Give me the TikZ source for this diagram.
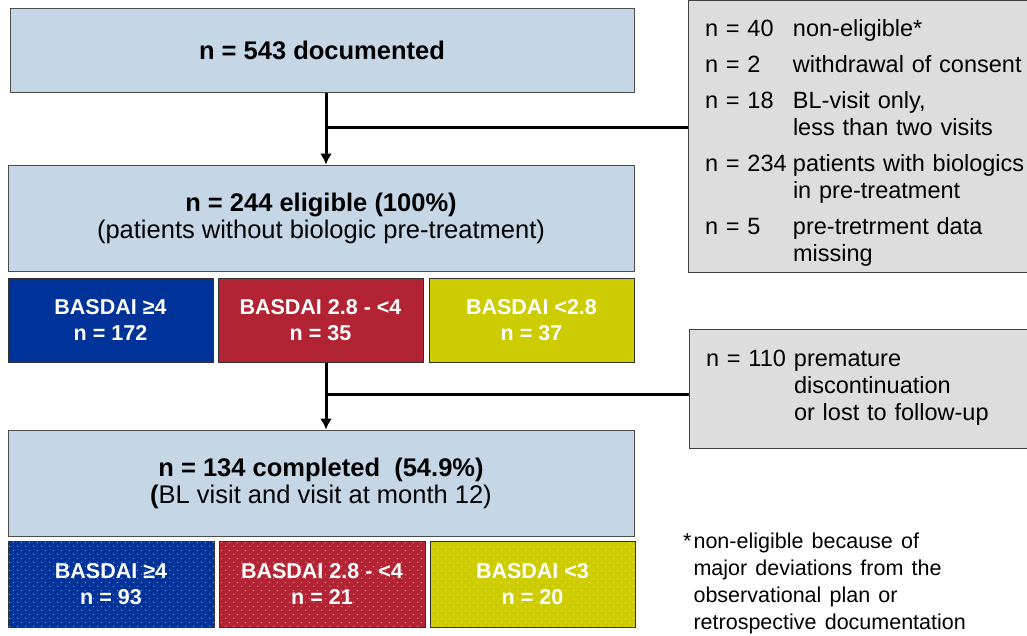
\documentclass[tikz,border=0pt]{standalone}
\usepackage{fontspec}
\setmainfont{Liberation Sans}
\usetikzlibrary{arrows.meta,patterns.meta}

\definecolor{boxblue}{RGB}{197,215,230}
\definecolor{boxgray}{RGB}{221,221,221}
\definecolor{basblue}{RGB}{0,51,153}
\definecolor{basred}{RGB}{178,36,52}
\definecolor{basyellow}{RGB}{204,204,0}

\tikzdeclarepattern{
  name=fewdots,
  type=uncolored,
  bounding box={(0pt,0pt) and (8pt,8pt)},
  tile size={(8pt,8pt)},
  code={
    \fill (2pt,2pt) circle (0.7pt);
    \fill (6pt,6pt) circle (0.7pt);
  }
}

\begin{document}
\begin{tikzpicture}[x=1pt, y=-1pt,
				mainbox/.style = {draw = gray!60!black, fill = boxblue,
				line width = 1pt, align = center, inner sep = 0pt,
				font = \fontsize{25.5}{27}\selectfont},
				sidebox/.style = {draw = gray!50!black, fill = boxgray,
				line width = 1pt, align = left, inner xsep = 17pt,
				font = \fontsize{23.5}{27}\selectfont},
				basbox/.style = {draw = gray!40!black, line width = 1pt,
				minimum height = 84pt, align = center, inner sep = 0pt,
				text = white, font = \bfseries\fontsize{21.5}{26}\selectfont},
				dotted blue/.style = {basbox, fill = basblue,
				postaction = {pattern = fewdots, pattern color = white!55!basblue}},
				dotted red/.style = {basbox, fill = basred,
				postaction = {pattern = fewdots, pattern color = white!55!basred}},
				dotted yellow/.style = {basbox, fill = basyellow,
				postaction = {pattern = fewdots, pattern color = white!55!basyellow}},
				arrow/.style = {line width = 3pt, -{Latex[length=11pt,width=12pt]}},
				branch/.style = {line width = 3pt}]

				\useasboundingbox (0,0) rectangle (1027,635);
				\clip (0,0) rectangle (1027,635);

				\node [mainbox, minimum width = 624pt, minimum height = 84pt] (doc) at (322,50)
				{\textbf{n = 543 documented}};
				\node [mainbox, minimum width = 626pt, minimum height = 106pt] (elig) at (321,218)
				{\textbf{n = 244 eligible (100\%)}\\(patients without biologic pre-treatment)};

				\node [basbox, fill = basblue, minimum width = 205pt] (b_1) at (110.5,320)
				{BASDAI ≥4\\n = 172};
				\node [basbox, fill = basred, minimum width = 205pt] (b_2) at (320.5,320)
				{BASDAI 2.8 - <4\\n = 35};
				\node [basbox, fill = basyellow, minimum width = 205pt] (b_3) at (531.5,320)
				{BASDAI <2.8\\n = 37};

				\node [mainbox, minimum width = 626pt, minimum height = 106pt] (comp) at (321,483)
				{\textbf{n = 134 completed\ \ (54.9\%)}\\\textbf{(}BL visit and visit at month 12)};

				\node [dotted blue, minimum width = 206pt, minimum height = 86pt] (c_1) at (111,584)
				{BASDAI ≥4\\n = 93};
				\node [dotted red, minimum width = 206pt, minimum height = 86pt] (c_2) at (322,584)
				{BASDAI 2.8 - <4\\n = 21};
				\node [dotted yellow, minimum width = 205pt, minimum height = 86pt] (c_3) at (532.5,584)
				{BASDAI <3\\n = 20};

				\node [sidebox, text width = 311pt, minimum height = 263pt] (ex_1) at (860.5,136.5)
				{\begin{tabular}{@{}p{88pt}@{}l@{}}
				\rule{0pt}{33pt}n = 40 & non-eligible*\\[9pt]
				n = 2 & withdrawal of consent\\[9pt]
				n = 18 & BL-visit only,\\
				 & less than two visits\\[9pt]
				n = 234 & patients with biologics\\
				 & in pre-treatment\\[9pt]
				n = 5 & pre-tretrment data\\
				 & missing
				\end{tabular}};
				\node [sidebox, text width = 310pt, minimum height = 119pt] (ex_2) at (861,388.5)
				{\begin{tabular}{@{}p{88pt}@{}l@{}}
				n = 110 & premature\\
				 & discontinuation\\
				 & or lost to follow-up
				\end{tabular}};

				\node [anchor = north west, inner sep = 0pt, align = left,
				font = \fontsize{21.5}{27}\selectfont] (note) at (683,529)
				{\spaceskip=0.38em\begin{tabular}{@{}l@{\hspace{2pt}}l@{}}
				* & non-eligible because of\\
				 & major deviations from the\\
				 & observational plan or\\
				 & retrospective documentation
				\end{tabular}};

				\coordinate (j_1) at (326,127);
				\coordinate (j_2) at (326,394);
				\draw [arrow] (j_1 |- doc.south) -- (j_1 |- elig.north);
				\draw [branch] (j_1) -- (j_1 -| ex_1.west);
				\draw [arrow] (j_2 |- b_2.south) -- (j_2 |- comp.north);
				\draw [branch] (j_2) -- (j_2 -| ex_2.west);
			\end{tikzpicture}
\end{document}
